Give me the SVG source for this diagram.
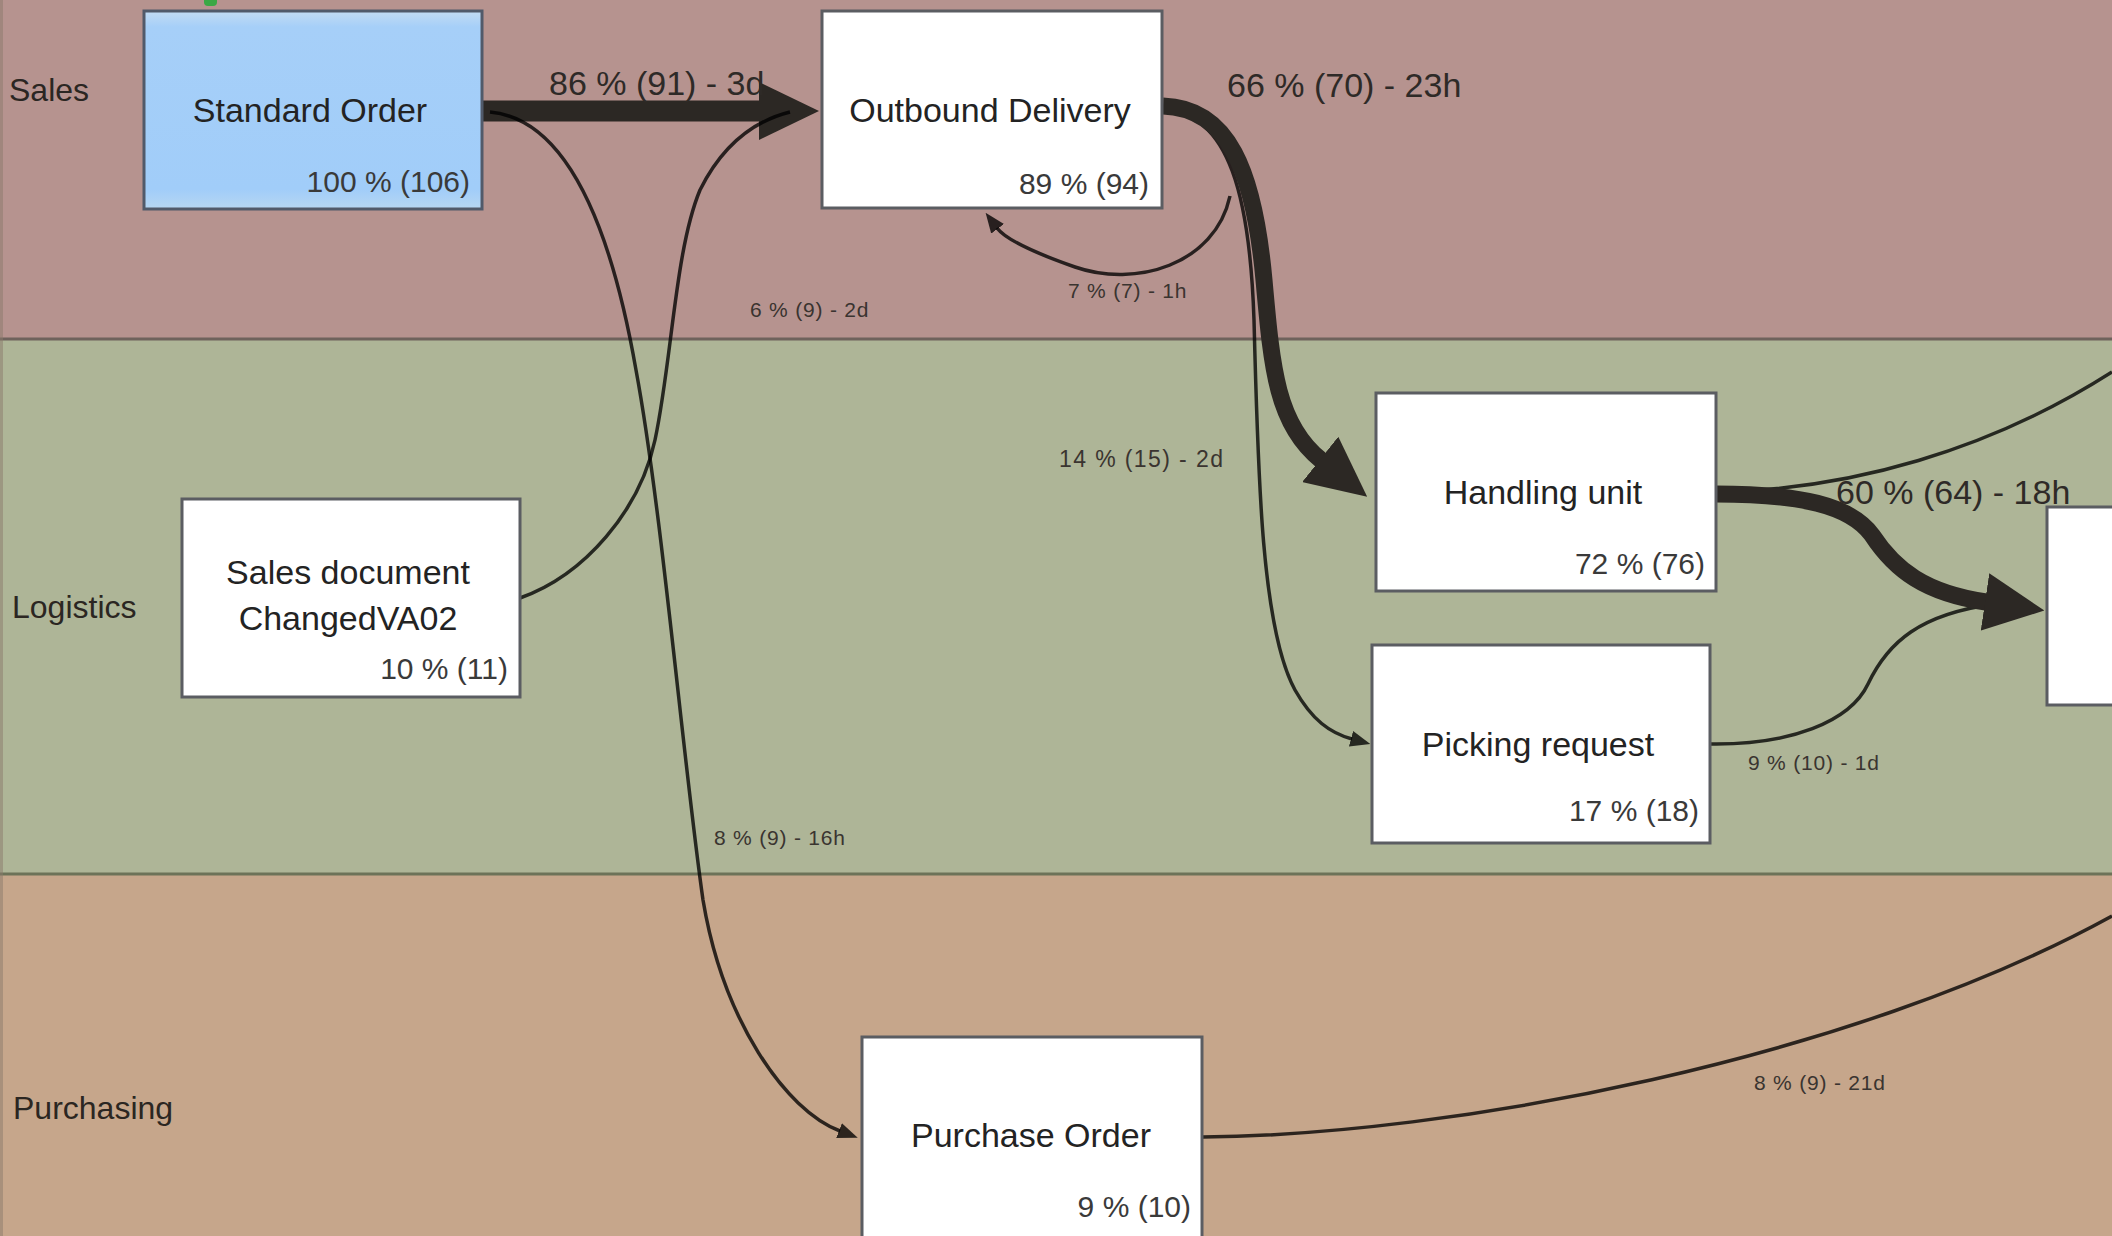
<svg xmlns="http://www.w3.org/2000/svg" width="2112" height="1236" viewBox="0 0 2112 1236">
  <defs>
    <style>
      .lane-label { font-family: "Liberation Sans", Arial, sans-serif; font-size: 32px; fill: #2b2622; }
      .title { font-family: "Liberation Sans", Arial, sans-serif; font-size: 34px; fill: #232323; text-anchor: middle; }
      .pct { font-family: "Liberation Sans", Arial, sans-serif; font-size: 30px; fill: #3a3a3a; text-anchor: end; }
      .box { fill: #ffffff; stroke: #5b5d62; stroke-width: 3; }
      .edge-big { font-family: "Liberation Sans", Arial, sans-serif; font-size: 34px; fill: #2e2a27; }
      .edge-small { font-family: "Liberation Sans", Arial, sans-serif; font-size: 21px; letter-spacing: 0.8px; fill: #3a3430; }
      .edge-mid { font-family: "Liberation Sans", Arial, sans-serif; font-size: 23px; letter-spacing: 1.4px; fill: #3a3430; }
      .thick { fill: none; stroke: #2c2824; stroke-linecap: butt; }
      .thin { fill: none; stroke: #000000; stroke-opacity: 0.78; stroke-width: 3.5; }
    </style>
    <linearGradient id="blueFill" x1="0" y1="0" x2="0" y2="1">
      <stop offset="0" stop-color="#c3dcf3"/>
      <stop offset="0.08" stop-color="#a6cff8"/>
      <stop offset="0.9" stop-color="#a1cdf9"/>
      <stop offset="1" stop-color="#b7d7f2"/>
    </linearGradient>
    <marker id="headBig" markerUnits="userSpaceOnUse" markerWidth="60" markerHeight="58" viewBox="0 0 60 58" refX="1" refY="29" orient="auto">
      <path d="M0,0 L60,29 L0,58 Z" fill="#2c2824"/>
    </marker>
    <marker id="headSmall" markerUnits="userSpaceOnUse" markerWidth="20" markerHeight="16" viewBox="0 0 20 16" refX="1" refY="8" orient="auto">
      <path d="M0,0 L20,8 L0,16 Z" fill="#000000" fill-opacity="0.78"/>
    </marker>
  </defs>

  <!-- swimlanes -->
  <g id="lanes">
    <rect x="0" y="0" width="2112" height="339" fill="#b6938f"/>
    <rect x="0" y="339" width="2112" height="535" fill="#aeb597"/>
    <rect x="0" y="874" width="2112" height="362" fill="#c6a68b"/>
    <line x1="0" y1="339" x2="2112" y2="339" stroke="#6e625c" stroke-width="3"/>
    <line x1="0" y1="874" x2="2112" y2="874" stroke="#6c7258" stroke-width="3"/>
    <line x1="1.5" y1="0" x2="1.5" y2="1236" stroke="#8a7a6c" stroke-width="3" stroke-opacity="0.5"/>
    <text class="lane-label" x="9" y="101">Sales</text>
    <text class="lane-label" x="12" y="618">Logistics</text>
    <text class="lane-label" x="13" y="1119">Purchasing</text>
  </g>

  <!-- start marker peeking in at the top -->
  <rect id="start-marker" x="204" y="-6" width="13" height="12" rx="4" fill="#3aa845"/>

  <!-- connectors -->
  <g id="connectors">
    <!-- Standard Order -> Outbound Delivery -->
    <path class="thick" stroke-width="21" d="M482,111 L760,111" marker-end="url(#headBig)"/>
    <!-- Standard Order -> Purchase Order -->
    <path class="thin" d="M490,112 C575,120 615,250 636,370 C662,510 683,760 703,900 C723,1020 785,1110 840,1131" marker-end="url(#headSmall)"/>
    <!-- Sales document ChangedVA02 -> Outbound Delivery -->
    <path class="thin" d="M520,598 C585,575 640,510 655,440 C672,360 675,250 700,190 C720,150 750,122 790,112"/>
    <!-- Outbound Delivery self loop -->
    <path class="thin" d="M1230,196 C1215,265 1135,288 1075,267 C1035,253 1006,240 997,228" marker-end="url(#headSmall)"/>
    <!-- Outbound Delivery -> Picking request -->
    <path class="thin" stroke-width="5" d="M1163,110 C1230,112 1250,200 1254,320 C1258,480 1262,630 1295,690 C1312,720 1330,733 1352,739" marker-end="url(#headSmall)"/>
    <!-- Outbound Delivery -> Handling unit -->
    <path class="thick" stroke-width="17" d="M1163,106 C1228,108 1254,170 1264,280 C1272,370 1277,425 1321,460" marker-end="url(#headBig)"/>
    <!-- Handling unit -> (continues off to the right) -->
    <path class="thin" d="M1716,492 C1850,490 1990,450 2112,372"/>
    <!-- Picking request -> next step -->
    <path class="thin" d="M1711,744 C1790,745 1850,722 1868,684 C1888,642 1920,614 1995,604"/>
    <!-- Handling unit -> next step -->
    <path class="thick" stroke-width="17" d="M1716,494 C1800,494 1850,505 1872,535 C1895,570 1925,593 1986,602" marker-end="url(#headBig)"/>
    <!-- Purchase Order -> (continues off to the right) -->
    <path class="thin" d="M1203,1137 C1450,1135 1850,1060 2112,916"/>

    <text class="edge-big" x="549" y="95">86 % (91) - 3d</text>
    <text class="edge-big" x="1227" y="97">66 % (70) - 23h</text>
    <text class="edge-big" x="1836" y="504">60 % (64) - 18h</text>
    <text class="edge-small" x="750" y="317">6 % (9) - 2d</text>
    <text class="edge-small" x="1068" y="298">7 % (7) - 1h</text>
    <text class="edge-mid" x="1059" y="467">14 % (15) - 2d</text>
    <text class="edge-small" x="714" y="845">8 % (9) - 16h</text>
    <text class="edge-small" x="1748" y="770">9 % (10) - 1d</text>
    <text class="edge-small" x="1754" y="1090">8 % (9) - 21d</text>
  </g>

  <!-- activity nodes -->
  <g id="node-standard-order">
    <rect x="144" y="11" width="338" height="198" fill="url(#blueFill)" stroke="#515a6a" stroke-width="3"/>
    <text class="title" x="310" y="122" fill="#1f2a38">Standard Order</text>
    <text class="pct" x="470" y="192">100 % (106)</text>
  </g>

  <g id="node-outbound-delivery">
    <rect class="box" x="822" y="11" width="340" height="197"/>
    <text class="title" x="990" y="122">Outbound Delivery</text>
    <text class="pct" x="1149" y="194">89 % (94)</text>
  </g>

  <g id="node-sales-document-changed">
    <rect class="box" x="182" y="499" width="338" height="198"/>
    <text class="title" x="348" y="584">Sales document</text>
    <text class="title" x="348" y="630">ChangedVA02</text>
    <text class="pct" x="508" y="679">10 % (11)</text>
  </g>

  <g id="node-handling-unit">
    <rect class="box" x="1376" y="393" width="340" height="198"/>
    <text class="title" x="1543" y="504">Handling unit</text>
    <text class="pct" x="1705" y="574">72 % (76)</text>
  </g>

  <g id="node-picking-request">
    <rect class="box" x="1372" y="645" width="338" height="198"/>
    <text class="title" x="1538" y="756">Picking request</text>
    <text class="pct" x="1699" y="821">17 % (18)</text>
  </g>

  <g id="node-purchase-order">
    <rect class="box" x="862" y="1037" width="340" height="205"/>
    <text class="title" x="1031" y="1147">Purchase Order</text>
    <text class="pct" x="1191" y="1217">9 % (10)</text>
  </g>

  <g id="node-next-step">
    <rect class="box" x="2047" y="507" width="75" height="198"/>
  </g>
</svg>
